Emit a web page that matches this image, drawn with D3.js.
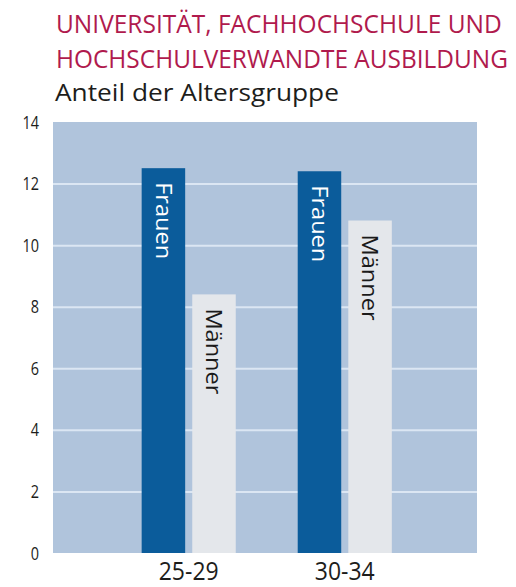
<!DOCTYPE html>
<html>
<head>
<meta charset="utf-8">
<script src="https://cdn.jsdelivr.net/npm/d3@7"></script>
<style>
  body { margin: 0; background: #fff; }
  svg { display: block; font-family: "Open Sans", sans-serif; }
</style>
</head>
<body>
<script>
const titleLines = ['UNIVERSITÄT, FACHHOCHSCHULE UND', 'HOCHSCHULVERWANDTE AUSBILDUNG'];
const subtitle = 'Anteil der Altersgruppe';
const categories = ['25-29', '30-34'];
const seriesNames = ['Frauen', 'Männer'];
const frauen = [12.5, 12.4];
const maenner = [8.4, 10.8];
const yTicks = [0, 2, 4, 6, 8, 10, 12, 14];

const width = 516;
const height = 587;
const plotLeft = 53, plotRight = 477, plotTop = 122, plotBottom = 553;

const colors = {Frauen: '#0b5c9b', 'Männer': '#e4e7eb'};
const labelColors = {Frauen: '#ffffff', 'Männer': '#1a1a1a'};

// the original uses a condensed face: squeeze text horizontally with a transform
function placeSqueezed(sel, x, y, w) {
    sel.each(function() {
        const natural = this.getComputedTextLength();
        d3.select(this).attr('transform', `translate(${x}, ${y}) scale(${w / natural}, 1)`);
    });
}

const svg = d3.select('body').append('svg')
    .attr('width', width)
    .attr('height', height);

// Titles
svg.append('text')
    .style('font-size', '26px').style('fill', '#b01a4d')
    .text(titleLines[0]).call(placeSqueezed, 56, 33, 446);
svg.append('text')
    .style('font-size', '26px').style('fill', '#b01a4d')
    .text(titleLines[1]).call(placeSqueezed, 56, 68, 452);
svg.append('text')
    .style('font-size', '24px').style('fill', '#1d1d1b')
    .text(subtitle).call(placeSqueezed, 55, 101, 284);

// Scales
const x0 = d3.scaleBand()
    .domain(categories)
    .range([plotLeft, plotRight])
    .paddingInner(0.397)
    .paddingOuter(0.557)
    .align(0.51);
const x1 = d3.scaleBand()
    .domain(seriesNames)
    .range([0, x0.bandwidth()])
    .paddingInner(0.14);
const y = d3.scaleLinear()
    .domain([0, 14])
    .range([plotBottom, plotTop]);

// Background
svg.append('rect')
    .attr('x', plotLeft).attr('y', plotTop)
    .attr('width', plotRight - plotLeft).attr('height', plotBottom - plotTop)
    .style('fill', '#b0c4dc');

// Grid lines
svg.append('g')
    .attr('class', 'grid')
    .attr('transform', `translate(${plotLeft}, 0)`)
    .call(d3.axisLeft(y).tickValues(yTicks.filter(t => t > 0 && t < 14))
        .tickSize(-(plotRight - plotLeft)).tickFormat(''))
    .call(sel => sel.select('.domain').remove())
    .call(sel => sel.selectAll('line').style('stroke', '#dbe6f3').style('stroke-width', '2px'));

// Y axis
svg.append('g')
    .attr('class', 'yAxis')
    .attr('transform', `translate(${plotLeft}, 0)`)
    .call(d3.axisLeft(y).tickValues(yTicks).tickSize(0).tickPadding(14))
    .call(sel => sel.select('.domain').remove())
    .selectAll('text')
    .style('font-size', '19px')
    .style('font-family', '"Open Sans", sans-serif')
    .style('fill', '#1d1d1b')
    .each(function() {
        this.setAttribute('textLength', this.getComputedTextLength() * 0.76);
        this.setAttribute('lengthAdjust', 'spacingAndGlyphs');
    });

// Bars
const rows = categories.map((c, i) => ({cat: c, values: [
    {name: 'Frauen', value: frauen[i]},
    {name: 'Männer', value: maenner[i]},
]}));

const groups = svg.append('g').attr('class', 'bars')
    .selectAll('g')
    .data(rows)
    .enter()
    .append('g')
    .attr('transform', d => `translate(${x0(d.cat)}, 0)`);

groups.selectAll('rect')
    .data(d => d.values)
    .enter()
    .append('rect')
    .attr('x', d => x1(d.name))
    .attr('y', d => y(d.value))
    .attr('width', x1.bandwidth())
    .attr('height', d => y(0) - y(d.value))
    .style('fill', d => colors[d.name]);

groups.selectAll('text')
    .data(d => d.values)
    .enter()
    .append('text')
    .attr('transform', d => `translate(${x1(d.name) + x1.bandwidth() / 2}, ${y(d.value) + 14}) rotate(90)`)
    .attr('dy', '0.36em')
    .style('font-size', '21px')
    .style('fill', d => labelColors[d.name])
    .text(d => d.name)
    .attr('textLength', d => d.name === 'Frauen' ? 77 : 86)
    .attr('lengthAdjust', 'spacingAndGlyphs');

// X axis labels (kept just inside the bottom edge)
svg.append('g')
    .attr('class', 'xAxis')
    .attr('transform', `translate(0, ${plotBottom})`)
    .call(d3.axisBottom(x0).tickSize(0).tickPadding(0))
    .call(sel => sel.select('.domain').remove())
    .selectAll('text')
    .attr('dy', null)
    .attr('y', 27)
    .style('font-size', '25px')
    .style('font-family', '"Open Sans", sans-serif')
    .style('fill', '#1d1d1b')
    .each(function() {
        const natural = this.getComputedTextLength();
        d3.select(this).attr('transform', `scale(${60 / natural}, 1)`);
    });
</script>
</body>
</html>
